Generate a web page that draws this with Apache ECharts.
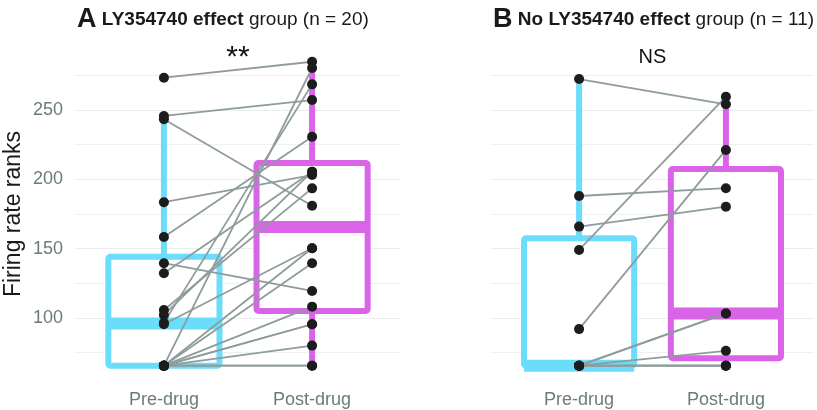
<!DOCTYPE html>
<html>
<head>
<meta charset="utf-8">
<script src="https://cdn.jsdelivr.net/npm/echarts@6/dist/echarts.min.js"></script>
<style>
html,body{margin:0;padding:0;background:#fff;}
#chart{width:817px;height:410px;}
</style>
</head>
<body>
<div id="chart"></div>
<script>
// ---- data ----
const categories = ['Pre-drug', 'Post-drug'];
const yTicks = [100, 150, 200, 250];
// Panel A: LY354740 effect group (n = 20); paired by index
const preA  = [273.3, 245.7, 243.3, 183.5, 158.4, 139.5, 132.3, 105.8, 102.2, 96.5, 95.5,
               65.6, 65.6, 65.6, 65.6, 65.6, 65.6, 65.6, 65.6, 65.6];
const postA = [284.8, 257.2, 181.0, 203.1, 230.7, 119.5, 205.5, 193.5, 205.5, 268.5, 150.3,
               65.6, 65.6, 80.1, 95.5, 95.5, 108.2, 139.5, 150.3, 280.3];
// Panel B: No LY354740 effect group (n = 11); paired by index
const preB  = [272.3, 188.0, 165.9, 149.1, 92.0, 65.6, 65.6, 65.6, 65.6, 65.6, 65.6];
const postB = [254.1, 193.6, 180.3, 259.6, 221.2, 65.6, 65.6, 65.6, 76.3, 103.3, 103.3];
const annotA = '**';
const annotB = 'NS';

// ---- styling ----
const COL = ['#6BDCFA', '#D964E8'];
const FONT = 'Liberation Sans, Arial, sans-serif';

function quant(s, p) {
  const h = (s.length - 1) * p, lo = Math.floor(h), hi = Math.min(lo + 1, s.length - 1);
  return s[lo] + (h - lo) * (s[hi] - s[lo]);
}
function stats(arr) {
  const s = arr.slice().sort((a, b) => a - b);
  const q1 = quant(s, .25), med = quant(s, .5), q3 = quant(s, .75), iqr = q3 - q1;
  const lo = Math.min(...s.filter(v => v >= q1 - 1.5 * iqr));
  const hi = Math.max(...s.filter(v => v <= q3 + 1.5 * iqr));
  return [q1, med, q3, lo, hi];
}

function boxRender(params, api) {
  const x = api.value(0), q1 = api.value(1), med = api.value(2), q3 = api.value(3),
        lo = api.value(4), hi = api.value(5), ci = api.value(6);
  const color = COL[ci];
  const w = api.size([0.75, 0])[0];
  const pQ1 = api.coord([x, q1]), pQ3 = api.coord([x, q3]), pMed = api.coord([x, med]);
  const pLo = api.coord([x, lo]), pHi = api.coord([x, hi]);
  const cx = pQ1[0];
  const ch = [];
  if (hi > q3) ch.push({type: 'line', shape: {x1: cx, y1: pQ3[1], x2: cx, y2: pHi[1]}, style: {stroke: color, lineWidth: 6}});
  if (lo < q1) ch.push({type: 'line', shape: {x1: cx, y1: pQ1[1], x2: cx, y2: pLo[1]}, style: {stroke: color, lineWidth: 6}});
  ch.push({type: 'rect', shape: {x: cx - w / 2, y: pQ3[1], width: w, height: pQ1[1] - pQ3[1], r: 2},
           style: {fill: '#fff', stroke: color, lineWidth: 6, lineJoin: 'round'}});
  ch.push({type: 'line', shape: {x1: cx - w / 2, y1: pMed[1], x2: cx + w / 2, y2: pMed[1]},
           style: {stroke: color, lineWidth: 12, lineCap: 'butt'}});
  return {type: 'group', children: ch};
}
function pairRender(params, api) {
  const a = api.coord([api.value(0), api.value(1)]);
  const b = api.coord([api.value(2), api.value(3)]);
  return {type: 'line', shape: {x1: a[0], y1: a[1], x2: b[0], y2: b[1]},
          style: {stroke: '#8E9C9C', lineWidth: 1.8}};
}
function textRender(params, api) {
  const p = api.coord([api.value(0), api.value(1)]);
  return {type: 'text', x: p[0], y: p[1],
          style: {text: params.seriesIndex === 4 ? annotA : annotB, fill: '#111',
                   font: (params.seriesIndex === 4 ? '30px ' : '20px ') + FONT,
                   align: 'center', verticalAlign: 'middle'}};
}

function panelSeries(pre, post, gi) {
  const boxes = [[1, ...stats(pre), 0], [2, ...stats(post), 1]];
  const pairs = pre.map((v, i) => [1, v, 2, post[i]]);
  const pts = pre.map(v => [1, v]).concat(post.map(v => [2, v]));
  return [
    {type: 'custom', xAxisIndex: gi, yAxisIndex: gi, renderItem: boxRender, data: boxes, z: 2, silent: true,
     encode: {x: 0, y: [1, 5]}},
    {type: 'custom', xAxisIndex: gi, yAxisIndex: gi, renderItem: pairRender, data: pairs, z: 3, silent: true,
     encode: {x: [0, 2], y: [1, 3]}},
    {type: 'scatter', xAxisIndex: gi, yAxisIndex: gi, data: pts, symbolSize: 10, z: 4, silent: true,
     itemStyle: {color: '#1C1C1C', opacity: 1}}
  ];
}

const sA = panelSeries(preA, postA, 0);
const sB = panelSeries(preB, postB, 1);
const series = [sA[0], sA[1], sA[2], sB[0],
  {type: 'custom', xAxisIndex: 0, yAxisIndex: 0, renderItem: textRender, data: [[1.5, 288]], z: 5, silent: true},
  sB[1], sB[2],
  {type: 'custom', xAxisIndex: 1, yAxisIndex: 1, renderItem: textRender, data: [[1.5, 288]], z: 5, silent: true}
];

function xAxis(gi) {
  return {type: 'value', gridIndex: gi, min: 0.4, max: 2.6,
    axisLine: {show: false}, axisTick: {show: false}, splitLine: {show: false},
    axisLabel: {customValues: [1, 2], formatter: v => categories[Math.round(v) - 1] || '',
      color: '#6B7B7B', fontSize: 18, fontFamily: FONT, margin: 4}};
}
function yAxis(gi) {
  return {type: 'value', gridIndex: gi, min: 50, max: 300, interval: 50,
    name: gi === 0 ? 'Firing rate ranks' : '', nameLocation: 'middle', nameGap: 50,
    nameTextStyle: {fontSize: 23, color: '#1A1A1A', fontFamily: FONT},
    axisLine: {show: false}, axisTick: {show: false},
    axisLabel: {show: gi === 0, showMinLabel: false, showMaxLabel: false, color: '#6B7B7B', fontSize: 18, fontFamily: FONT, margin: 12},
    splitLine: {show: true, showMinLine: false, showMaxLine: false, lineStyle: {color: '#EAEDED', width: 1.2}},
    minorTick: {show: false, splitNumber: 2},
    minorSplitLine: {show: true, lineStyle: {color: '#EFF1F1', width: 1}}};
}

function titleRich() {
  return {fontSize: 19, fontWeight: 'normal', fontFamily: FONT, color: '#1A1A1A',
    rich: {a: {fontSize: 27, fontWeight: 'bold', fontFamily: FONT, color: '#1A1A1A'},
           b: {fontSize: 19, fontWeight: 'bold', fontFamily: FONT, color: '#1A1A1A'},
           c: {fontSize: 19, fontWeight: 'normal', fontFamily: FONT, color: '#1A1A1A'}}};
}

const chart = echarts.init(document.getElementById('chart'), null, {renderer: 'canvas'});
chart.setOption({
  animation: false,
  backgroundColor: '#fff',
  title: [
    {left: 77, top: 6, padding: 0, text: '{a|A} {b|LY354740 effect} {c|group (n = 20)}', textStyle: titleRich()},
    {left: 493, top: 6, padding: 0, text: '{a|B} {b|No LY354740 effect} {c|group (n = 11)}', textStyle: titleRich()}
  ],
  grid: [
    {left: 75, top: 40.67, width: 326, height: 346.67, containLabel: false},
    {left: 491, top: 40.67, width: 323, height: 346.67, containLabel: false}
  ],
  xAxis: [xAxis(0), xAxis(1)],
  yAxis: [yAxis(0), yAxis(1)],
  series: series
});
</script>
</body>
</html>
